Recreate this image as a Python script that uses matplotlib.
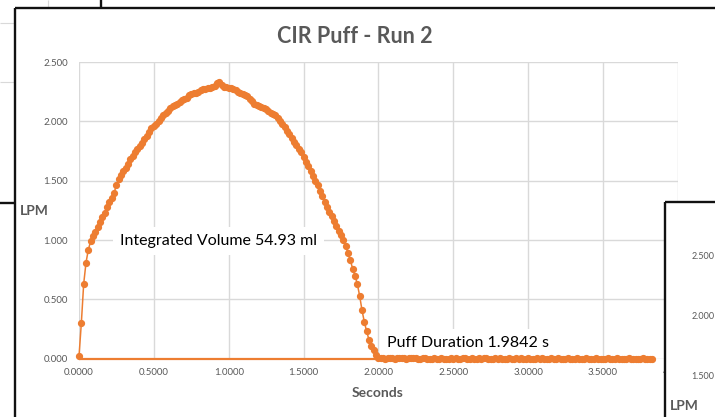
import numpy as np
import matplotlib
matplotlib.use("Agg")
import matplotlib.pyplot as plt
from matplotlib.patches import Rectangle
from matplotlib.lines import Line2D
from matplotlib.ticker import FormatStrFormatter
from matplotlib.transforms import Bbox, TransformedBbox

# ---------------- data ----------------
title = "CIR Puff - Run 2"
x_label = "Seconds"
y_label = "LPM"
volume_note = "Integrated Volume 54.93 ml"
duration_note = "Puff Duration 1.9842 s"

sample_rate_hz = 64.0  # one sample every 0.015625 s

flow_lpm = [
    0.02, 0.30, 0.63, 0.81, 0.92, 0.99, 1.03, 1.07, 1.11, 1.15,
    1.19, 1.23, 1.28, 1.32, 1.35, 1.40, 1.46, 1.51, 1.55, 1.58,
    1.61, 1.64, 1.68, 1.71, 1.74, 1.77, 1.79, 1.82, 1.85, 1.88,
    1.91, 1.94, 1.96, 1.98, 2.00, 2.03, 2.05, 2.07, 2.09, 2.11,
    2.13, 2.14, 2.15, 2.16, 2.18, 2.19, 2.20, 2.22, 2.23, 2.24,
    2.24, 2.25, 2.26, 2.27, 2.27, 2.28, 2.28, 2.29, 2.30, 2.32,
    2.33, 2.31, 2.29, 2.29, 2.28, 2.28, 2.27, 2.26, 2.25, 2.24,
    2.23, 2.22, 2.21, 2.19, 2.17, 2.15, 2.14, 2.13, 2.12, 2.11,
    2.10, 2.09, 2.07, 2.06, 2.05, 2.03, 2.00, 1.98, 1.95, 1.92,
    1.89, 1.86, 1.83, 1.80, 1.77, 1.74, 1.70, 1.66, 1.62, 1.58,
    1.54, 1.50, 1.46, 1.41, 1.37, 1.32, 1.28, 1.24, 1.20, 1.16,
    1.12, 1.08, 1.04, 1.00, 0.95, 0.89, 0.83, 0.76, 0.70, 0.63,
    0.53, 0.41, 0.31, 0.23, 0.16, 0.11, 0.07, 0.03, 0.01,
    0.01, 0.01, 0.00, 0.01, 0.01, 0.01, 0.00, 0.01, 0.01, 0.01,
    0.01, 0.00, 0.01, 0.01, 0.01, 0.01, 0.00, 0.00, 0.01, 0.01,
    0.00, 0.00, 0.00, 0.01, 0.00, 0.00, 0.01, 0.00, 0.00, 0.00,
    0.01, 0.00, 0.01, 0.00, 0.00, 0.01, 0.01, 0.00, 0.00, 0.01,
    0.00, 0.00, 0.01, 0.00, 0.01, 0.01, 0.00, 0.00, 0.00, 0.01,
    0.00, 0.01, 0.00, 0.00, 0.00, 0.01, 0.00, 0.00, 0.01, 0.00,
    0.01, 0.00, 0.00, 0.01, 0.00, 0.00, 0.00, 0.01, 0.00, 0.01,
    0.00, 0.00, 0.00, 0.01, 0.00, 0.00, 0.01, 0.00, 0.00, 0.00,
    0.01, 0.00, 0.00, 0.00, 0.01, 0.00, 0.00, 0.00, 0.01, 0.00,
    0.00, 0.00, 0.01, 0.00, 0.00, 0.00, 0.00, 0.01, 0.00, 0.00,
    0.00, 0.01, 0.00, 0.00, 0.00, 0.00, 0.01, 0.00, 0.00, 0.00,
    0.00, 0.00, 0.01, 0.00, 0.00, 0.00, 0.00,
]
times_s = np.arange(len(flow_lpm)) / sample_rate_hz

x_ticks = [0.0, 0.5, 1.0, 1.5, 2.0, 2.5, 3.0, 3.5, 4.0]
y_ticks = [0.0, 0.5, 1.0, 1.5, 2.0, 2.5]
side_chart_ticks = ["2.500", "2.000", "1.500"]

# ---------------- style ----------------
ORANGE = "#ED7D31"
GRAY_TEXT = "#595959"
GRID = "#D9D9D9"
FRAME = "#111111"
FONT = ["Lato", "DejaVu Sans"]
plt.rcParams["font.family"] = FONT

W, H = 715, 417
fig = plt.figure(figsize=(W / 100, H / 100), dpi=100)
fig.patch.set_facecolor("white")


def fx(x):
    return x / W


def fy(y):
    return 1 - y / H


ax = fig.add_axes([fx(79), fy(358.7), (677.7 - 79) / W, (358.7 - 62) / H])
ax.set_facecolor("white")
ax.set_xlim(0, 4)
ax.set_ylim(0, 2.5)
ax.set_xticks(x_ticks)
ax.set_yticks(y_ticks)
ax.xaxis.set_major_formatter(FormatStrFormatter("%.4f"))
ax.yaxis.set_major_formatter(FormatStrFormatter("%.3f"))
ax.grid(True, color=GRID, lw=1.0)
ax.set_axisbelow(True)
for s in ax.spines.values():
    s.set_visible(False)
ax.tick_params(axis="both", length=0, labelsize=7, labelcolor=GRAY_TEXT)
ax.tick_params(axis="x", pad=7)
ax.tick_params(axis="y", pad=8)

# baseline and data
ax.hlines(0, times_s[0], times_s[-1], color=ORANGE, lw=1.6, zorder=3, clip_on=False)
ax.plot(times_s, flow_lpm, "-o", color=ORANGE, lw=1.1, ms=4.2, mec=ORANGE,
        mfc=ORANGE, zorder=4, clip_on=False)

# annotations (white boxes hide gridlines)
ax.text(fx(120), fy(245), volume_note, transform=fig.transFigure, fontsize=11.5,
        color="black", va="baseline", ha="left", zorder=2.5,
        bbox=dict(facecolor="white", edgecolor="none", pad=5))
ax.text(fx(387), fy(346.7), duration_note, transform=fig.transFigure, fontsize=11.5,
        color="black", va="baseline", ha="left", zorder=2.5,
        bbox=dict(facecolor="white", edgecolor="none", pad=5))

# title and axis labels
fig.text(fx(354.5), fy(43), title, ha="center", va="baseline", fontsize=15.5,
         fontweight="bold", color=GRAY_TEXT)
fig.text(fx(378), fy(397), x_label, ha="center", va="baseline", fontsize=10,
         fontweight="bold", color=GRAY_TEXT)
fig.text(fx(20), fy(215), y_label, ha="left", va="baseline", fontsize=10,
         fontweight="bold", color=GRAY_TEXT)

# the last x tick label sits under the overlapping chart: clip it there
fig.canvas.draw()
clip = TransformedBbox(Bbox([[0, 0], [fx(665), 1]]), fig.transFigure)
for lbl in ax.get_xticklabels():
    if lbl.get_text() == "4.0000":
        lbl.set_clip_on(True)
        lbl.set_clip_box(clip)

# ---------------- surrounding screenshot frames ----------------
def seg(x0, y0, x1, y1, color=FRAME, lw=1.7, z=6):
    fig.add_artist(Line2D([fx(x0), fx(x1)], [fy(y0), fy(y1)], color=color, lw=lw,
                          zorder=z, transform=fig.transFigure, solid_capstyle="butt"))

# background chart remnants (top-left)
seg(0, 23, 15, 23, color=GRID, lw=0.8)
seg(0, 82, 15, 82, color=GRID, lw=0.8)
seg(48, 0, 48, 8, color=GRID, lw=0.8)
seg(100.7, 0, 100.7, 8)
seg(0, 203, 15, 203)

# main chart frame
seg(15, 8, 15, H)
seg(15, 8, W, 8)

# overlapping chart at bottom-right
fig.add_artist(Rectangle((fx(665), 0), 1 - fx(665), fy(202), transform=fig.transFigure,
                         facecolor="white", edgecolor="none", zorder=5))
seg(665, 202, 665, H)
seg(665, 202, W, 202)
for lbl, yb in zip(side_chart_ticks, [259, 319, 379]):
    t = fig.text(fx(714.5), fy(yb), lbl, ha="right", va="baseline", fontsize=6.5,
                 color=GRAY_TEXT)
    t.set_zorder(7)
t = fig.text(fx(670), fy(410.5), y_label, ha="left", va="baseline", fontsize=10,
             fontweight="bold", color=GRAY_TEXT)
t.set_zorder(7)

fig.savefig("out.png", dpi=100, facecolor="white")
